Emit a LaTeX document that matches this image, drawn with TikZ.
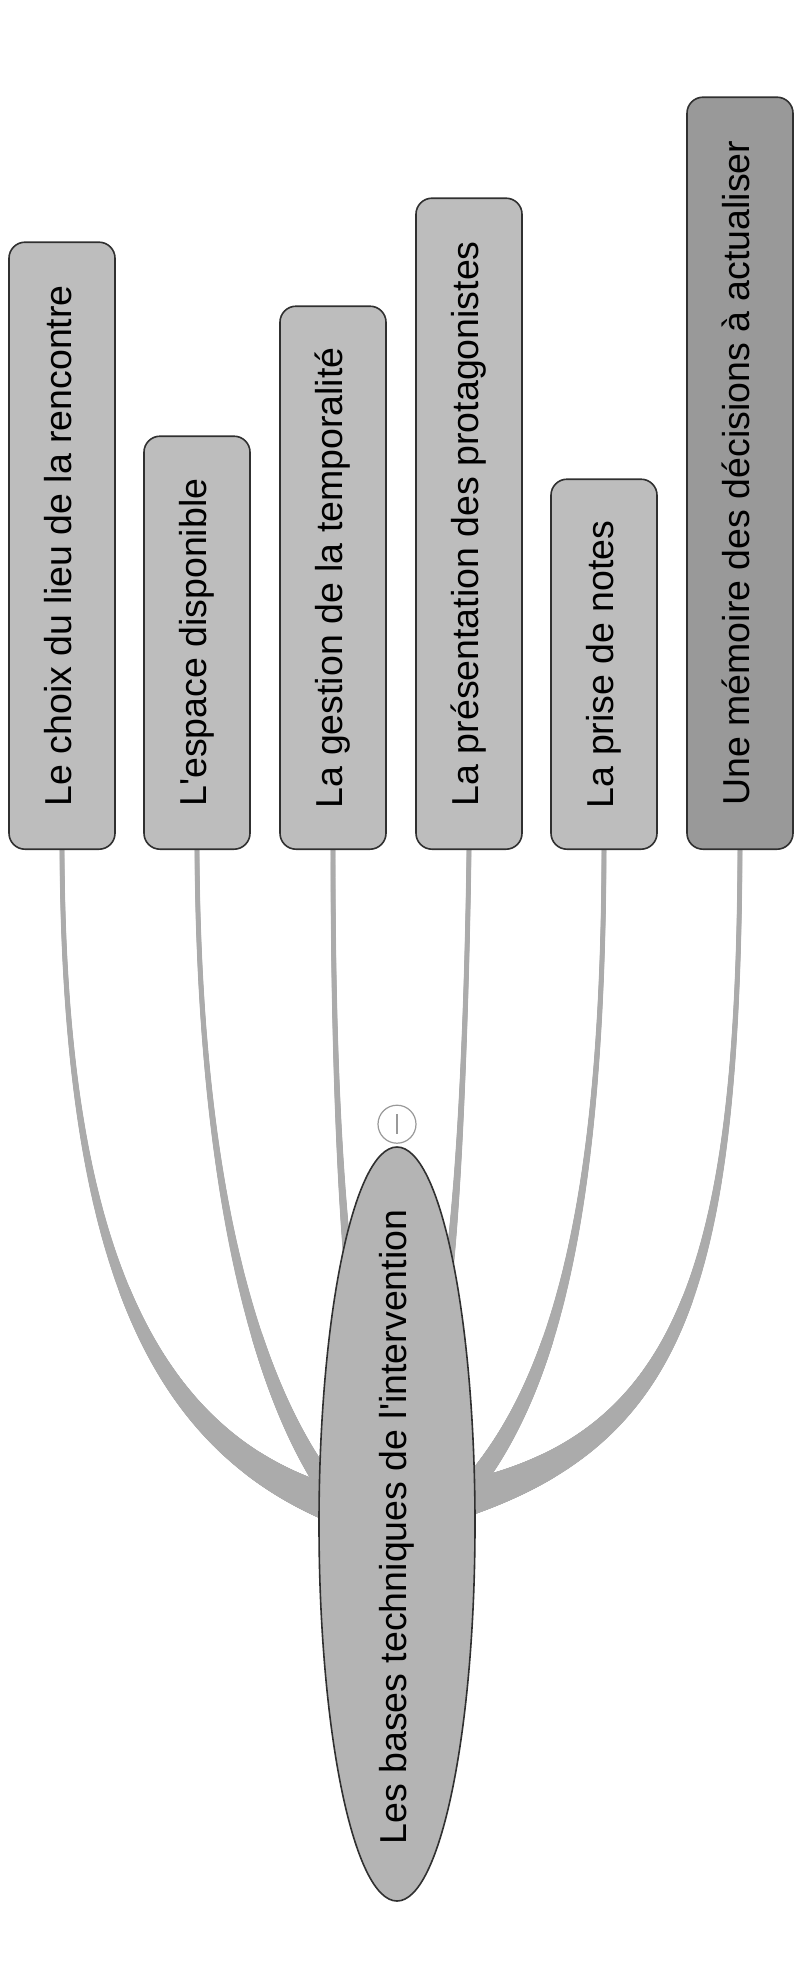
\documentclass[tikz,border=0pt]{standalone}
\usepackage{fontspec}
\setmainfont{Liberation Sans}[Ligatures=TeXOff]
\usetikzlibrary{shapes.geometric,decorations.markings,calc}
\pgfdeclarelayer{bg}
\pgfsetlayers{bg,main}
\definecolor{boxfill}{HTML}{BDBDBD}
\definecolor{boxdark}{HTML}{999999}
\definecolor{rootfill}{HTML}{B4B4B4}
\definecolor{conncol}{HTML}{ABABAB}
\definecolor{edgecol}{HTML}{303030}
\tikzset{
  topic/.style={draw=edgecol, line width=1.6pt, fill=boxfill, rounded corners=16pt,
    rotate=90, anchor=west, minimum height=106pt, inner sep=0pt,
    text height=27pt, text depth=9pt, font=\fontsize{37.5}{45}\selectfont},
  rootshape/.style={ellipse, draw=edgecol, line width=1.6pt, fill=rootfill,
    minimum width=156pt, minimum height=754pt, inner sep=0pt},
  roottext/.style={rotate=90, inner sep=0pt, text height=27pt, text depth=9pt,
    font=\fontsize{37.5}{45}\selectfont},
  toggle/.style={circle, draw=gray!80, line width=1.2pt, minimum size=38pt, inner sep=0pt},
  togglemark/.style={draw=gray!80, line width=1.2pt},
  taper/.style 2 args={decorate, decoration={markings,
    mark=between positions 0 and 1 step 1pt with {%
      \pgfmathsetmacro{\tpf}{(\pgfkeysvalueof{/pgf/decoration/mark info/sequence number}-1)/\pgfdecoratedpathlength}%
      \pgfmathsetmacro{\tpr}{#1+(#2-#1)*\tpf*\tpf*\tpf}%
      \fill[conncol] (0,0) circle[radius=\tpr pt];}}}
}
\begin{document}
\begin{tikzpicture}[x=1pt,y=-1pt]
\useasboundingbox (0,0) rectangle (796,1978);

\node[topic, minimum width=607pt] (b1) at (62,850) {Le choix du lieu de la rencontre};
\node[topic, minimum width=413pt] (b2) at (197,850) {L'espace disponible};
\node[topic, minimum width=543pt] (b3) at (333,850) {La gestion de la temporalité};
\node[topic, minimum width=651pt] (b4) at (469,850) {La présentation des protagonistes};
\node[topic, minimum width=370pt] (b5) at (604,850) {La prise de notes};
\node[topic, minimum width=752pt, fill=boxdark] (b6) at (740,850) {Une mémoire des décisions à actualiser};

\node[rootshape] (root) at (397,1524) {};
\node[roottext] (rt) at ($(root.center)+(0,3)$) {Les bases techniques de l'intervention};
\node[toggle] (tg) at ($(root.north)+(0,-22)$) {};
\draw[togglemark] ($(tg.center)+(0,-10)$) -- ($(tg.center)+(0,10)$);

\begin{pgfonlayer}{bg}
\fill[white] (0,0) rectangle (796,1978);
\path[taper={2.5}{19}] (b1.west) .. controls ($(b1.west)+(2,400)$) and ($(root.center)+(-247,-84)$) .. ($(root.center)+(-62,-19)$);
\path[taper={2.5}{11}] (b2.west) .. controls ($(b2.west)+(2,350)$) and ($(root.center)+(-137,-124)$) .. ($(root.center)+(-62,-27)$);
\path[taper={2.5}{5}] (b3.west) .. controls ($(b3.west)+(0,200)$) and ($(root.center)+(-57,-324)$) .. ($(root.center)+(-45,-224)$);
\path[taper={2.5}{5}] (b4.west) .. controls ($(b4.west)+(-2,150)$) and ($(root.center)+(63,-324)$) .. ($(root.center)+(48,-224)$);
\path[taper={2.5}{11}] (b5.west) .. controls ($(b5.west)+(-1,380)$) and ($(root.center)+(151,-124)$) .. ($(root.center)+(65,-27)$);
\path[taper={2.5}{19}] (b6.west) .. controls ($(b6.west)+(-2,430)$) and ($(root.center)+(283,-84)$) .. ($(root.center)+(63,-24)$);
\end{pgfonlayer}
\end{tikzpicture}
\end{document}
